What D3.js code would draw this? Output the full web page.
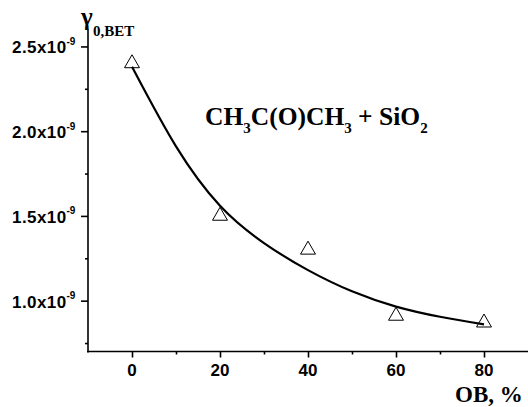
<!DOCTYPE html>
<html>
<head>
<meta charset="utf-8">
<script src="https://cdn.jsdelivr.net/npm/d3@7"></script>
<style>
  html, body { margin: 0; padding: 0; background: #fff; }
  svg { display: block; }
</style>
</head>
<body>
<svg id="chart" width="528" height="407"></svg>
<script>
// ---- data (y values in units of 10^-9) ----
const obPercent = [0, 20, 40, 60, 80];
const gammaValues = [2.40, 1.50, 1.30, 0.91, 0.87];
const fitX = [0, 10, 20, 30, 40, 50, 60, 70, 80];
const fitY = [2.38, 1.91, 1.56, 1.34, 1.18, 1.055, 0.965, 0.905, 0.86];
const yTickValues = [1.0, 1.5, 2.0, 2.5];
const yTickLabels = ["1.0x10", "1.5x10", "2.0x10", "2.5x10"];
const yTickExp = "-9";
const yMinorTicks = [0.75, 1.25, 1.75, 2.25];
const xTickValues = [0, 20, 40, 60, 80];
const xMinorTicks = [10, 30, 50, 70];
const xTitle = "OB, %";
const yTitleMain = "γ";
const yTitleSub = "0,BET";

const svg = d3.select("#chart");
const x = d3.scaleLinear().domain([-10, 90]).range([88, 528]);
const y = d3.scaleLinear().domain([0.7, 2.6]).range([351.5, 29.5]);

const sans = "'Liberation Sans', Arial, sans-serif";
const serif = "'Liberation Serif', 'Times New Roman', serif";

// x axis
const xAxis = svg.append("g").attr("transform", `translate(0,${y(0.7)})`)
  .call(d3.axisBottom(x).tickValues(xTickValues).tickSize(6).tickFormat(""));
svg.append("g").attr("transform", `translate(0,${y(0.7)})`)
  .call(d3.axisBottom(x).tickValues(xMinorTicks).tickSize(3).tickFormat(""))
  .select(".domain").remove();
xAxis.select(".domain").attr("d", `M${x(-10) - 1},0H${x(90)}`);

// y axis
const yAxis = svg.append("g").attr("transform", `translate(${x(-10)},0)`)
  .call(d3.axisLeft(y).tickValues(yTickValues).tickSize(7).tickFormat(""));
svg.append("g").attr("transform", `translate(${x(-10)},0)`)
  .call(d3.axisLeft(y).tickValues(yMinorTicks).tickSize(3).tickFormat(""))
  .select(".domain").remove();
yAxis.select(".domain").attr("d", `M0,${y(2.6)}V${y(0.7) + 1}`);

svg.selectAll(".domain, .tick line").attr("stroke", "#000").attr("stroke-width", 1.6);

// y tick labels
const yl = svg.append("g");
yTickValues.forEach((v, i) => {
  yl.append("text")
    .attr("x", 66.5).attr("y", y(v) + 7)
    .attr("text-anchor", "end")
    .attr("font-family", sans).attr("font-weight", "bold")
    .attr("font-size", 17).attr("letter-spacing", 0.4)
    .text(yTickLabels[i]);
  yl.append("text")
    .attr("x", 66.5).attr("y", y(v) - 1.5)
    .attr("font-family", sans).attr("font-weight", "bold")
    .attr("font-size", 10)
    .text(yTickExp);
});

// x tick labels
svg.append("g").selectAll("text").data(xTickValues).join("text")
  .attr("x", d => x(d)).attr("y", 376)
  .attr("text-anchor", "middle")
  .attr("font-family", sans).attr("font-weight", "bold")
  .attr("font-size", 17)
  .text(d => d);

// axis titles
svg.append("text")
  .attr("x", 455).attr("y", 402)
  .attr("font-family", serif).attr("font-weight", "bold")
  .attr("font-size", 23)
  .text(xTitle);

svg.append("text")
  .attr("x", 81).attr("y", 25)
  .attr("font-family", serif).attr("font-weight", "bold")
  .attr("font-size", 25)
  .text(yTitleMain);
svg.append("text")
  .attr("x", 93).attr("y", 36)
  .attr("font-family", serif).attr("font-weight", "bold")
  .attr("font-size", 15)
  .text(yTitleSub);

// formula label
const parts = [["CH", 0], ["3", 1], ["C(O)CH", 0], ["3", 1], [" + SiO", 0], ["2", 1]];
const f = svg.append("text")
  .attr("x", 205).attr("y", 125)
  .attr("font-family", serif).attr("font-weight", "bold")
  .attr("font-size", 25.5);
parts.forEach(([t, sub], i) => {
  const prevSub = i > 0 ? parts[i - 1][1] : 0;
  f.append("tspan")
    .attr("font-size", sub ? 15 : 25.5)
    .attr("dy", sub ? 8 : (prevSub ? -8 : 0))
    .text(t);
});

// fit curve
const line = d3.line().x((d, i) => x(fitX[i])).y(d => y(d)).curve(d3.curveNatural);
svg.append("path")
  .datum(fitY)
  .attr("d", line)
  .attr("fill", "none")
  .attr("stroke", "#000")
  .attr("stroke-width", 2.2);

// data points (open triangles)
const tri = d3.symbol(d3.symbolTriangle, 97);
svg.append("g").selectAll("path").data(gammaValues).join("path")
  .attr("d", tri)
  .attr("transform", (d, i) => `translate(${x(obPercent[i])},${y(d)})`)
  .attr("fill", "none")
  .attr("stroke", "#000")
  .attr("stroke-width", 1);
</script>
</body>
</html>
